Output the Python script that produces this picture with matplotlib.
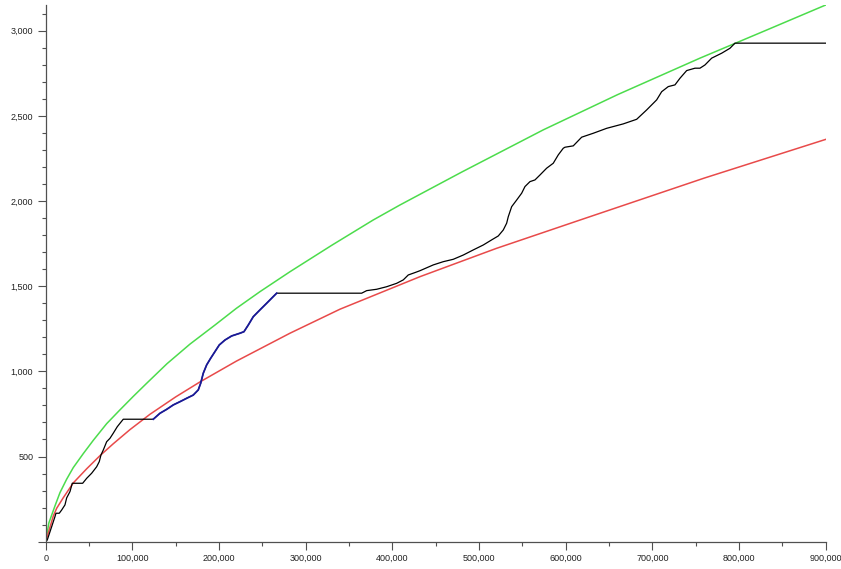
import matplotlib
matplotlib.use("Agg")
import matplotlib.pyplot as plt
from matplotlib.ticker import MultipleLocator, FuncFormatter

# observed cumulative series (black)
obs_x = [0, 1850, 6920, 10730, 11880, 15690, 18460, 22270, 24230, 28040, 30690,
         42690, 47310, 53080, 58840, 61840, 63800, 66460, 70380, 74190, 78000,
         82610, 85730, 89530, 124150, 131880, 139610, 147230, 154960, 162690,
         170300, 176070, 178840, 181840, 185760, 190380, 195340, 200300, 206880,
         214610, 224190, 228800, 233760, 239530, 247260, 254990, 262600, 266530,
         364600, 370370, 381910, 393450, 404990, 412600, 418370, 426100, 431870,
         447210, 458750, 470290, 481830, 493370, 504910, 514600, 522210, 527980,
         531900, 533750, 537670, 543440, 549210, 553020, 558790, 564560, 570330,
         578060, 585670, 591440, 597210, 599170, 608750, 618440, 631820, 647280,
         666430, 681890, 693430, 704970, 710740, 718360, 726090, 731860, 739590,
         749160, 754930, 760700, 768430, 779970, 789540, 795310, 900000]
obs_y = [0, 10, 88, 147, 167, 167, 186, 216, 257, 294, 343,
         343, 372, 402, 440, 470, 509, 538, 587, 607, 637,
         675, 695, 719, 719, 754, 777, 803, 822, 842,
         861, 891, 930, 989, 1038, 1077, 1116, 1155, 1184,
         1208, 1224, 1233, 1272, 1321, 1361, 1400, 1439, 1459,
         1459, 1474, 1482, 1497, 1517, 1537, 1566, 1580, 1591,
         1625, 1644, 1658, 1683, 1713, 1742, 1772, 1795, 1830,
         1870, 1908, 1967, 2006, 2046, 2085, 2114, 2124, 2153,
         2193, 2222, 2271, 2310, 2316, 2324, 2375, 2398, 2427,
         2453, 2480, 2535, 2594, 2642, 2672, 2682, 2721, 2766,
         2780, 2780, 2799, 2839, 2868, 2897, 2927, 2927]

# highlighted stretch (blue) between these x values
hl_start, hl_end = 124150, 266530

# upper bound (green)
up_x = [0, 3690, 10730, 16500, 24230, 31850, 43380, 54920, 70380, 85730, 101070,
        116530, 140000, 166490, 195340, 220000, 247260, 281880, 330000, 377990,
        408830, 480000, 574170, 660000, 754930, 830000, 900000]
up_y = [0, 110, 210, 288, 367, 435, 517, 595, 693, 774, 853,
        930, 1045, 1160, 1272, 1370, 1468, 1585, 1740, 1889,
        1977, 2170, 2418, 2625, 2839, 3000, 3151]

# lower bound (red)
lo_x = [0, 8770, 12690, 20310, 31850, 47310, 62650, 78000, 97270, 120340,
        150000, 178030, 220000, 281880, 339570, 431870, 520000, 620270, 760000, 900000]
lo_y = [0, 150, 196, 258, 345, 428, 505, 575, 658, 748,
        850, 938, 1060, 1224, 1365, 1556, 1722, 1895, 2135, 2362]

fig = plt.figure(figsize=(8.41, 5.69), dpi=100)
ax = fig.add_axes([0.0543, 0.048, 0.9275, 0.9432])

ax.plot(up_x, up_y, color="#4cdc4c", lw=1.1)
ax.plot(lo_x, lo_y, color="#e84a4a", lw=1.1)
ax.plot(obs_x, obs_y, color="black", lw=0.9)
hx = [x for x in obs_x if hl_start <= x <= hl_end]
hy = [y for x, y in zip(obs_x, obs_y) if hl_start <= x <= hl_end]
ax.plot(hx, hy, color="#1a1aa8", lw=1.3, alpha=0.9)

ax.set_xlim(0, 900000)
ax.set_ylim(0, 3151)

for s in ["top", "right"]:
    ax.spines[s].set_visible(False)
for s in ["left", "bottom"]:
    ax.spines[s].set_color("#505050")
    ax.spines[s].set_linewidth(0.9)

ax.xaxis.set_major_locator(MultipleLocator(100000))
ax.xaxis.set_minor_locator(MultipleLocator(50000))
ax.yaxis.set_major_locator(MultipleLocator(500))
ax.yaxis.set_minor_locator(MultipleLocator(100))

fmt = FuncFormatter(lambda v, p: "{:,.0f}".format(v))
ax.xaxis.set_major_formatter(fmt)
ax.yaxis.set_major_formatter(FuncFormatter(lambda v, p: "" if v == 0 else "{:,.0f}".format(v)))

ax.tick_params(which="major", length=6, width=0.8, color="#505050",
               labelsize=6.5, labelcolor="#222222", pad=3)
ax.tick_params(which="minor", length=3, width=0.8, color="#505050")
for lab in ax.get_xticklabels() + ax.get_yticklabels():
    lab.set_family("Liberation Sans")

fig.savefig("out.png", dpi=100)
